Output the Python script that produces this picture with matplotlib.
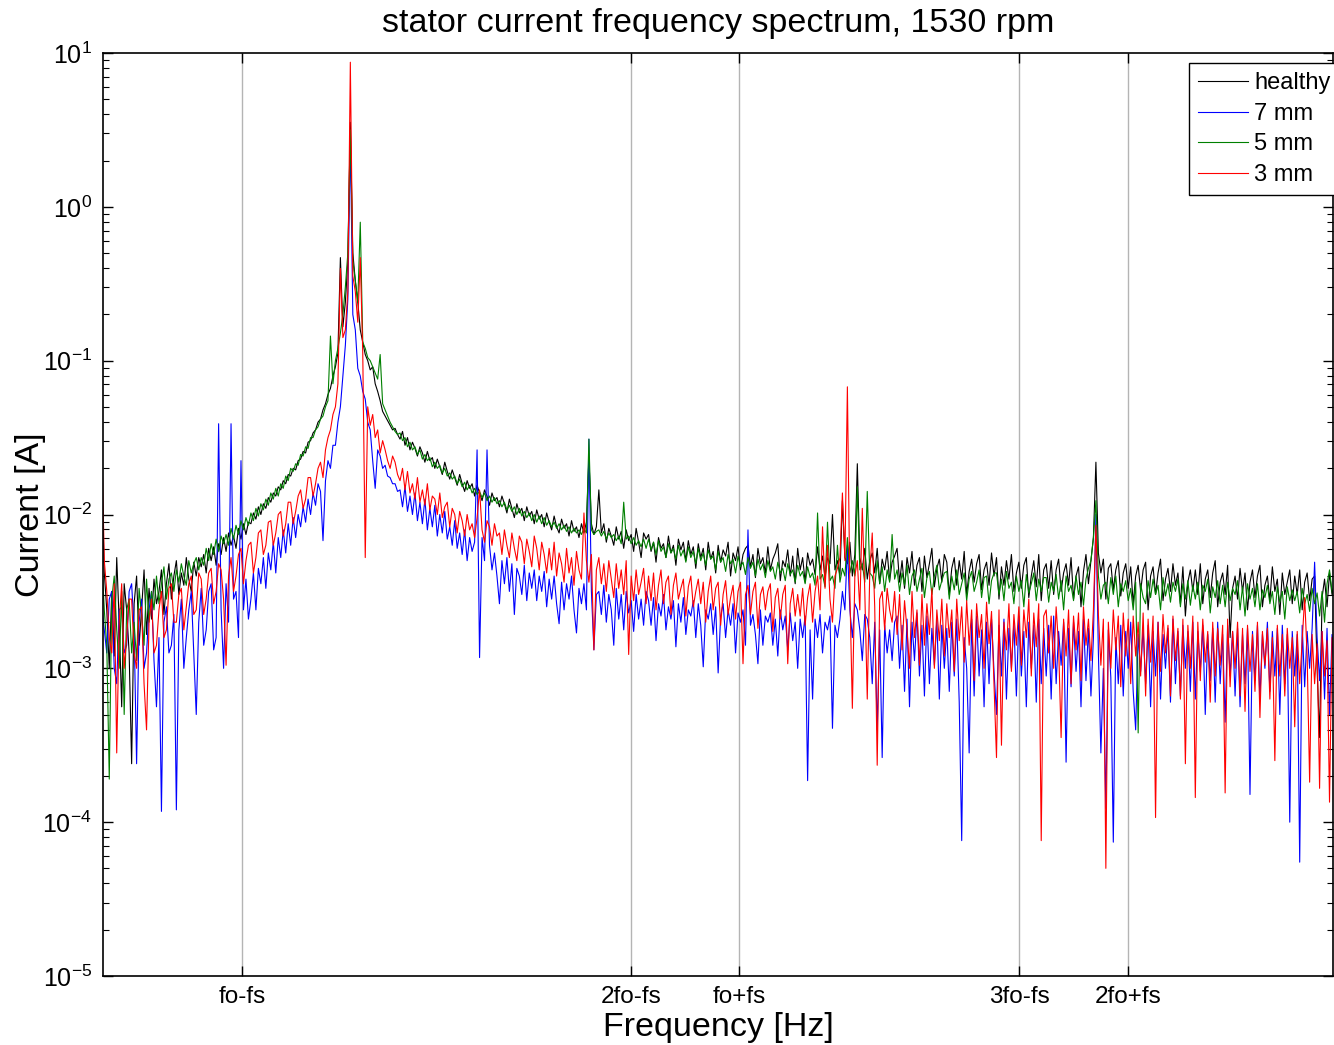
import numpy as np
import matplotlib
matplotlib.use("Agg")
import matplotlib.pyplot as plt
from matplotlib.ticker import FixedLocator, NullFormatter, LogFormatterSciNotation

plt.rcParams['font.family'] = ['Liberation Sans', 'DejaVu Sans']
plt.rcParams['axes.unicode_minus'] = False

# ---------------- data ----------------
# Spectrum bins are 0.5 Hz apart, starting at 0 Hz.
BIN_HZ = 0.5
# Amplitudes are given in hundredths of a decade: value = 100 * log10(I [A]).
# Each row holds 20 bins = 10 Hz.
healthy_cdec = [
    -175, -238, -262, -300, -250, -292, -228, -270, -325, -245, -262, -290, -362, -258, -240, -285, -262, -236, -278, -248,
    -268, -242, -258, -250, -236, -265, -245, -232, -255, -240, -230, -252, -238, -246, -228, -242, -250, -231, -240, -228,
    -234, -226, -238, -222, -230, -221, -233, -219, -226, -215, -224, -212, -220, -214, -222, -209, -216, -206, -213, -205,
    -206, -199, -203, -195, -200, -193, -196, -189, -192, -186, -188, -182, -184, -178, -180, -174, -175, -170, -171, -165,
    -164, -159, -160, -153, -152, -147, -145, -140, -138, -132, -128, -122, -118, -110, -104, -95, -33, -78, -62, -35,
    55, -30, -48, -62, -80, -88, -96, -100, -106, -104, -115, -120, -126, -133, -136, -139, -142, -145, -144, -148,
    -151, -146, -155, -150, -158, -153, -157, -162, -156, -160, -166, -159, -165, -163, -170, -164, -169, -174, -166, -172,
    -177, -171, -176, -181, -174, -180, -185, -178, -183, -180, -188, -181, -186, -191, -184, -188, -194, -186, -191, -189,
    -195, -188, -193, -199, -190, -196, -202, -193, -199, -196, -204, -195, -201, -198, -206, -197, -203, -200, -208, -199,
    -205, -210, -201, -208, -212, -203, -209, -206, -214, -204, -211, -208, -215, -206, -212, -205, -163, -206, -213, -208,
    -184, -212, -206, -218, -209, -214, -220, -208, -216, -211, -222, -210, -217, -213, -224, -209, -218, -228, -212, -216,
    -213, -224, -218, -231, -215, -222, -219, -228, -214, -225, -220, -233, -216, -223, -218, -230, -217, -226, -221, -235,
    -219, -228, -222, -236, -218, -229, -224, -238, -220, -231, -223, -227, -218, -240, -225, -230, -221, -236, -226, -222,
    -220, -234, -226, -241, -222, -232, -228, -238, -221, -236, -229, -225, -219, -243, -230, -234, -223, -240, -227, -245,
    -222, -236, -228, -244, -225, -233, -229, -239, -221, -236, -227, -241, -228, -232, -200, -236, -230, -240, -191, -228,
    -232, -218, -240, -226, -167, -228, -236, -222, -242, -230, -225, -238, -222, -245, -229, -236, -224, -243, -231, -227,
    -222, -244, -230, -248, -228, -238, -224, -246, -233, -228, -250, -227, -241, -232, -222, -247, -235, -229, -244, -226,
    -231, -252, -235, -228, -246, -230, -242, -224, -252, -237, -229, -244, -232, -226, -249, -236, -231, -246, -225, -240,
    -228, -255, -234, -246, -230, -242, -226, -250, -238, -231, -248, -233, -228, -254, -240, -230, -247, -226, -256, -236,
    -232, -248, -230, -252, -236, -229, -250, -238, -232, -246, -228, -255, -240, -234, -260, -237, -226, -245, -230, -215,
    -166, -225, -238, -229, -255, -235, -232, -249, -236, -230, -253, -238, -232, -248, -234, -258, -240, -233, -250, -236,
    -231, -262, -240, -234, -252, -238, -229, -256, -242, -235, -250, -232, -246, -238, -258, -234, -266, -244, -236, -250,
    -236, -252, -232, -258, -242, -236, -254, -238, -230, -260, -244, -238, -252, -233, -280, -248, -240, -255, -235, -250,
    -238, -262, -244, -236, -254, -240, -233, -260, -246, -240, -256, -234, -250, -242, -265, -238, -252, -244, -236, -258,
    -240, -252, -236, -262, -244, -238, -256, -242, -240, -300, -345, -254, -242, -260, -238, -252, -245,
]

fault_7mm_cdec = [
    -260, -275, -290, -255, -250, -300, -310, -262, -260, -290, -285, -250, -245, -275, -362, -270, -255, -300, -290, -262,
    -250, -295, -325, -280, -393, -270, -260, -290, -285, -265, -392, -275, -255, -300, -280, -262, -250, -290, -330, -270,
    -248, -285, -275, -250, -245, -288, -280, -141, -262, -300, -245, -270, -141, -255, -250, -280, -165, -262, -242, -268,
    -255, -238, -262, -235, -245, -228, -248, -225, -236, -218, -238, -215, -228, -210, -225, -206, -220, -202, -215, -200,
    -208, -195, -205, -190, -200, -186, -194, -180, -185, -217, -178, -165, -170, -155, -155, -140, -130, -110, -90, -60,
    45, -70, -80, -105, -110, -120, -125, -140, -145, -165, -183, -158, -162, -170, -168, -175, -176, -180, -180, -185,
    -184, -195, -182, -198, -188, -200, -186, -204, -192, -206, -190, -210, -196, -208, -194, -214, -200, -212, -198, -216,
    -208, -220, -204, -222, -212, -226, -210, -230, -215, -224, -218, -158, -293, -215, -230, -158, -220, -236, -225, -240,
    -258, -230, -245, -228, -250, -232, -265, -235, -240, -252, -233, -256, -238, -248, -236, -256, -240, -250, -237, -260,
    -242, -255, -240, -258, -271, -244, -262, -245, -255, -240, -262, -277, -248, -258, -245, -262, -151, -250, -288, -252,
    -250, -265, -246, -270, -252, -262, -285, -248, -268, -252, -275, -250, -264, -256, -276, -252, -268, -255, -272, -250,
    -256, -272, -254, -282, -258, -266, -252, -275, -260, -268, -256, -286, -258, -270, -254, -278, -262, -266, -256, -280,
    -258, -272, -299, -262, -268, -258, -278, -260, -303, -266, -258, -280, -262, -272, -258, -290, -264, -270, -262, -285,
    -210, -272, -265, -278, -297, -262, -285, -266, -270, -264, -285, -268, -292, -262, -275, -266, -288, -264, -282, -270,
    -300, -268, -280, -266, -373, -275, -320, -268, -280, -265, -290, -270, -275, -266, -339, -272, -280, -268, -250, -262,
    -220, -262, -280, -258, -262, -275, -295, -265, -268, -280, -310, -270, -340, -275, -358, -272, -290, -275, -295, -270,
    -266, -300, -272, -315, -268, -325, -270, -295, -264, -305, -272, -318, -266, -310, -274, -298, -268, -320, -272, -300,
    -274, -315, -270, -305, -268, -322, -412, -280, -300, -355, -268, -318, -266, -305, -275, -325, -270, -310, -268, -302,
    -330, -272, -305, -268, -320, -274, -300, -270, -318, -266, -305, -276, -325, -270, -300, -272, -322, -268, -310, -274,
    -305, -272, -320, -266, -310, -276, -298, -270, -361, -274, -312, -270, -302, -276, -325, -268, -308, -274, -318, -280,
    -200, -290, -355, -300, -391, -275, -306, -413, -280, -310, -272, -318, -276, -300, -270, -315, -340, -278, -302, -274,
    -310, -272, -325, -276, -305, -270, -320, -278, -300, -274, -322, -268, -310, -276, -318, -272, -300, -276, -315, -270,
    -320, -276, -302, -272, -330, -278, -308, -274, -322, -270, -310, -278, -335, -272, -305, -276, -318, -274, -325, -278,
    -310, -274, -382, -276, -308, -272, -320, -278, -300, -270, -315, -276, -305, -274, -330, -272, -310, -278, -400, -276,
    -305, -278, -426, -272, -312, -276, -300, -274, -231, -280, -308, -276, -320, -274, -330, -278, -305,
]

fault_5mm_cdec = [
    -230, -262, -285, -372, -255, -240, -275, -300, -250, -330, -262, -255, -290, -270, -295, -248, -265, -285, -242, -270,
    -250, -262, -240, -258, -245, -234, -255, -242, -238, -250, -236, -244, -232, -240, -246, -230, -238, -232, -228, -236,
    -228, -233, -222, -230, -219, -226, -216, -224, -214, -219, -213, -220, -209, -216, -207, -213, -204, -210, -202, -207,
    -199, -204, -196, -201, -193, -197, -190, -194, -186, -190, -183, -188, -180, -183, -175, -178, -170, -172, -167, -168,
    -161, -162, -156, -157, -150, -150, -145, -143, -138, -136, -130, -126, -84, -115, -100, -92, -82, -70, -52, -30,
    50, -35, -48, -62, -10, -88, -92, -98, -100, -104, -108, -112, -96, -128, -132, -136, -140, -143, -146, -148,
    -147, -152, -150, -156, -153, -158, -156, -161, -158, -164, -161, -165, -163, -169, -166, -170, -168, -173, -170, -175,
    -173, -177, -175, -180, -177, -182, -179, -184, -181, -186, -183, -187, -185, -189, -186, -191, -188, -192, -189, -193,
    -191, -195, -192, -197, -194, -198, -195, -200, -196, -201, -198, -202, -199, -204, -200, -205, -201, -206, -202, -207,
    -204, -208, -205, -209, -206, -210, -207, -211, -208, -212, -209, -212, -210, -213, -209, -212, -151, -210, -213, -211,
    -210, -214, -211, -216, -212, -215, -213, -217, -214, -219, -192, -216, -214, -219, -215, -220, -217, -221, -216, -222,
    -216, -223, -218, -226, -217, -224, -221, -228, -219, -225, -222, -229, -220, -227, -223, -231, -221, -228, -224, -232,
    -222, -230, -225, -233, -223, -229, -227, -236, -224, -231, -228, -237, -226, -232, -229, -238, -227, -234, -231, -239,
    -228, -235, -231, -240, -229, -236, -232, -241, -230, -237, -234, -242, -231, -238, -235, -243, -232, -239, -236, -244,
    -233, -240, -237, -245, -234, -241, -238, -246, -199, -242, -239, -247, -205, -243, -240, -248, -220, -244, -235, -240,
    -215, -238, -230, -240, -182, -236, -232, -244, -185, -238, -240, -248, -230, -245, -234, -250, -236, -244, -213, -242,
    -236, -250, -238, -246, -233, -252, -240, -236, -250, -242, -235, -254, -241, -237, -252, -240, -233, -249, -243, -238,
    -237, -255, -240, -249, -236, -252, -245, -238, -256, -242, -237, -250, -244, -236, -254, -241, -240, -258, -243, -238,
    -238, -252, -242, -256, -237, -248, -244, -258, -240, -250, -243, -260, -239, -251, -245, -238, -256, -242, -250, -241,
    -241, -257, -244, -250, -239, -255, -243, -262, -240, -250, -246, -256, -240, -252, -244, -259, -242, -235, -230, -215,
    -191, -240, -255, -246, -244, -258, -241, -252, -240, -260, -245, -250, -243, -256, -248, -262, -244, -342, -245, -254,
    -258, -243, -254, -242, -252, -246, -262, -241, -253, -245, -257, -244, -250, -242, -260, -245, -255, -243, -259, -246,
    -255, -244, -262, -246, -250, -242, -264, -247, -254, -243, -258, -246, -260, -244, -256, -248, -252, -243, -262, -247,
    -266, -245, -255, -248, -260, -245, -262, -249, -254, -246, -258, -250, -265, -247, -257, -250, -268, -247, -256, -249,
    -256, -250, -264, -248, -258, -252, -263, -248, -258, -251, -266, -250, -270, -245, -236, -250, -255,
]

fault_3mm_cdec = [
    -155, -230, -250, -280, -290, -245, -355, -270, -245, -300, -280, -255, -255, -290, -300, -262, -260, -310, -340, -270,
    -255, -290, -285, -262, -250, -280, -275, -248, -245, -270, -270, -252, -248, -275, -260, -245, -240, -265, -262, -238,
    -242, -265, -255, -238, -235, -258, -250, -232, -236, -255, -298, -240, -228, -250, -240, -226, -222, -245, -230, -220,
    -218, -238, -228, -212, -210, -226, -220, -205, -204, -220, -212, -200, -198, -214, -206, -192, -192, -206, -198, -188,
    -184, -196, -190, -176, -176, -188, -180, -170, -166, -176, -158, -150, -145, -135, -130, -115, -40, -85, -80, -55,
    94, -45, -55, -75, -33, -95, -228, -130, -142, -135, -150, -145, -160, -152, -158, -165, -170, -162, -166, -174,
    -178, -170, -184, -172, -186, -180, -190, -176, -192, -184, -194, -180, -197, -188, -190, -200, -186, -202, -195, -192,
    -208, -196, -200, -212, -198, -204, -214, -200, -210, -206, -215, -202, -184, -210, -218, -204, -208, -220, -206, -214,
    -212, -226, -210, -220, -228, -212, -222, -230, -214, -218, -232, -216, -224, -234, -214, -222, -236, -218, -226, -238,
    -222, -236, -218, -240, -225, -232, -244, -222, -238, -228, -246, -224, -236, -242, -199, -230, -244, -226, -288, -236,
    -228, -245, -232, -250, -230, -242, -254, -232, -248, -236, -252, -230, -291, -240, -256, -236, -252, -244, -235, -258,
    -240, -256, -238, -262, -246, -236, -258, -244, -240, -265, -246, -238, -255, -248, -242, -266, -247, -240, -260, -250,
    -242, -258, -244, -270, -250, -240, -262, -248, -244, -272, -252, -243, -265, -254, -246, -268, -250, -244, -297, -252,
    -246, -265, -250, -244, -274, -252, -247, -262, -250, -245, -276, -254, -248, -268, -252, -246, -297, -258, -248, -266,
    -252, -266, -248, -272, -254, -245, -270, -250, -240, -262, -208, -248, -220, -255, -270, -240, -235, -228, -186, -230,
    -117, -250, -326, -240, -230, -262, -196, -250, -320, -238, -212, -260, -363, -255, -250, -275, -248, -262, -270, -250,
    -278, -252, -288, -256, -275, -300, -250, -280, -262, -298, -252, -285, -258, -278, -248, -300, -262, -282, -255, -292,
    -258, -280, -262, -302, -255, -282, -260, -296, -256, -285, -262, -308, -258, -280, -265, -300, -257, -284, -263, -310,
    -358, -262, -350, -270, -288, -258, -302, -265, -285, -260, -298, -262, -280, -255, -305, -264, -286, -258, -412, -266,
    -262, -290, -266, -300, -260, -286, -345, -268, -292, -262, -310, -266, -288, -264, -308, -260, -285, -268, -295, -262,
    -207, -265, -298, -268, -430, -270, -300, -262, -288, -266, -312, -264, -292, -268, -310, -266, -292, -270, -305, -264,
    -318, -268, -296, -266, -397, -270, -302, -265, -290, -272, -318, -266, -295, -274, -320, -268, -362, -272, -300, -266,
    -384, -270, -308, -268, -296, -276, -322, -270, -305, -274, -298, -272, -381, -268, -312, -276, -300, -270, -318, -274,
    -328, -272, -302, -278, -315, -270, -332, -276, -298, -274, -320, -280, -360, -272, -305, -278, -318, -274, -300, -280,
    -338, -276, -310, -282, -254, -292, -374, -278, -310, -284, -378, -276, -305, -282, -387, -280, -292,
]

series_names = ['healthy', '7 mm', '5 mm', '3 mm']
series_colors = ['black', 'blue', 'green', 'red']

# characteristic frequencies [Hz]
fs_hz = 50.0
fo_hz = 78.2
tick_labels = ['fo-fs', '2fo-fs', 'fo+fs', '3fo-fs', '2fo+fs']
tick_freqs = [fo_hz - fs_hz, 2 * fo_hz - fs_hz, fo_hz + fs_hz,
              3 * fo_hz - fs_hz, 2 * fo_hz + fs_hz]

# y axis decades shown
y_decades = list(range(-5, 2))

# ---------------- figure ----------------
W, H = 1334, 1045
fig = plt.figure(figsize=(W / 100, H / 100), dpi=100)
ax = fig.add_axes([103 / W, 1 - 976 / H, (1333 - 103) / W, (976 - 53) / H])

all_series = [healthy_cdec, fault_7mm_cdec, fault_5mm_cdec, fault_3mm_cdec]
for vals, name, col in zip(all_series, series_names, series_colors):
    v = np.asarray(vals, dtype=float)
    f = np.arange(v.size) * BIN_HZ
    ax.plot(f, 10.0 ** (v / 100.0), color=col, lw=0.8, label=name)

ax.set_yscale('log')
ax.set_ylim(10.0 ** y_decades[0], 10.0 ** y_decades[-1])
ax.set_xlim(0.24, 247.7)

ax.set_xticks(tick_freqs)
ax.set_xticklabels(tick_labels)
ax.xaxis.grid(True, color='#b4b4b4', lw=1.0)
ax.set_axisbelow(True)

major_y = [10.0 ** k for k in y_decades]
minor_y = [m * 10.0 ** k for k in y_decades[:-1] for m in range(2, 10)]
ax.yaxis.set_major_locator(FixedLocator(major_y))
ax.yaxis.set_major_formatter(LogFormatterSciNotation())
ax.yaxis.set_minor_locator(FixedLocator(minor_y))
ax.yaxis.set_minor_formatter(NullFormatter())

ax.tick_params(which='both', direction='in', top=True, right=True)
ax.tick_params(axis='x', labelsize=17.5, pad=7)
ax.tick_params(axis='y', labelsize=18, pad=8)
ax.tick_params(which='major', length=7, width=1)
ax.tick_params(which='minor', length=4, width=0.8)
for sp in ax.spines.values():
    sp.set_linewidth(1.2)

ax.set_title('stator current frequency spectrum, 1530 rpm', fontsize=24.5, pad=15)
ax.set_xlabel('Frequency [Hz]', fontsize=24.5, labelpad=3)
ax.set_ylabel('Current [A]', fontsize=24.5)
ax.yaxis.set_label_coords(-0.046, 0.5)

leg = ax.legend(loc='upper left', bbox_to_anchor=(1189 / W, 1 - 63 / H),
                bbox_transform=fig.transFigure, fontsize=17, frameon=True,
                fancybox=False, edgecolor='black', framealpha=1,
                handlelength=2.1, borderaxespad=0, labelspacing=0.36,
                borderpad=0.4, handletextpad=0.25)
leg.get_frame().set_linewidth(1.0)

fig.savefig('out.png', dpi=100)
